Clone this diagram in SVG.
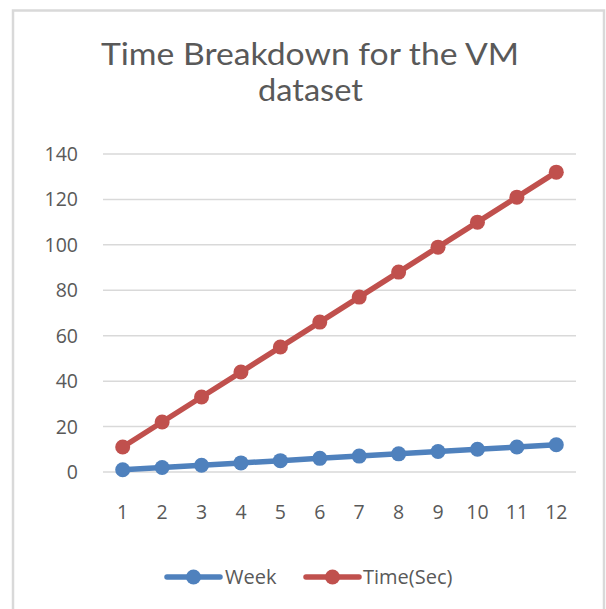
<svg xmlns="http://www.w3.org/2000/svg" width="606" height="609" viewBox="0 0 606 609">
<style>
.t{font-family:"Open Sans","Liberation Sans",sans-serif;fill:#595959}
.title{font-family:Lato,"Open Sans",sans-serif;font-size:30px;text-anchor:middle}
.ax{font-size:19.5px}
.yl{text-anchor:end}
.xl{text-anchor:middle}
.lg{font-size:20px}
.grid{stroke:#d9d9d9;stroke-width:1.5;fill:none}
.blue{stroke:#4f81bd;fill:none;stroke-width:5.5;stroke-linejoin:round;stroke-linecap:round}
.red{stroke:#c0504d;fill:none;stroke-width:5.5;stroke-linejoin:round;stroke-linecap:round}
.bm{fill:#4f81bd}
.rm{fill:#c0504d}
</style>
<rect x="0" y="0" width="606" height="609" fill="#ffffff"/>
<rect x="13" y="10.5" width="591" height="610" fill="#ffffff" stroke="#d9d9d9" stroke-width="2.5"/>
<g id="title">
<text class="t title" x="310" y="65" textLength="418" lengthAdjust="spacingAndGlyphs">Time Breakdown for the VM</text>
<text class="t title" x="310.5" y="101" textLength="105" lengthAdjust="spacingAndGlyphs">dataset</text>
</g>
<g id="gridlines">
<line class="grid" x1="103" y1="472" x2="576" y2="472"/>
<line class="grid" x1="103" y1="426.57" x2="576" y2="426.57"/>
<line class="grid" x1="103" y1="381.14" x2="576" y2="381.14"/>
<line class="grid" x1="103" y1="335.71" x2="576" y2="335.71"/>
<line class="grid" x1="103" y1="290.29" x2="576" y2="290.29"/>
<line class="grid" x1="103" y1="244.86" x2="576" y2="244.86"/>
<line class="grid" x1="103" y1="199.43" x2="576" y2="199.43"/>
<line class="grid" x1="103" y1="154" x2="576" y2="154"/>
</g>
<g id="y-axis">
<text class="t ax yl" x="78" y="479">0</text>
<text class="t ax yl" x="78" y="433.6">20</text>
<text class="t ax yl" x="78" y="388.1">40</text>
<text class="t ax yl" x="78" y="342.7">60</text>
<text class="t ax yl" x="78" y="297.3">80</text>
<text class="t ax yl" x="78" y="251.9">100</text>
<text class="t ax yl" x="78" y="206.4">120</text>
<text class="t ax yl" x="78" y="161">140</text>
</g>
<g id="x-axis">
<text class="t ax xl" x="122.7" y="519">1</text>
<text class="t ax xl" x="162.1" y="519">2</text>
<text class="t ax xl" x="201.5" y="519">3</text>
<text class="t ax xl" x="241" y="519">4</text>
<text class="t ax xl" x="280.4" y="519">5</text>
<text class="t ax xl" x="319.8" y="519">6</text>
<text class="t ax xl" x="359.2" y="519">7</text>
<text class="t ax xl" x="398.6" y="519">8</text>
<text class="t ax xl" x="438" y="519">9</text>
<text class="t ax xl" x="477.5" y="519">10</text>
<text class="t ax xl" x="516.9" y="519">11</text>
<text class="t ax xl" x="556.3" y="519">12</text>
</g>
<g id="connectors">
<polyline id="week-line" class="blue" points="122.71,469.73 162.13,467.46 201.54,465.19 240.96,462.91 280.38,460.64 319.79,458.37 359.21,456.10 398.63,453.83 438.04,451.56 477.46,449.29 516.88,447.01 556.29,444.74"/>
<polyline id="time-line" class="red" points="122.71,447.01 162.13,422.03 201.54,397.04 240.96,372.06 280.38,347.07 319.79,322.08 359.21,297.10 398.63,272.11 438.04,247.13 477.46,222.14 516.88,197.15 556.29,172.17"/>
</g>
<g id="week-markers">
<circle class="bm" cx="122.71" cy="469.73" r="7.5"/>
<circle class="bm" cx="162.13" cy="467.46" r="7.5"/>
<circle class="bm" cx="201.54" cy="465.19" r="7.5"/>
<circle class="bm" cx="240.96" cy="462.91" r="7.5"/>
<circle class="bm" cx="280.38" cy="460.64" r="7.5"/>
<circle class="bm" cx="319.79" cy="458.37" r="7.5"/>
<circle class="bm" cx="359.21" cy="456.10" r="7.5"/>
<circle class="bm" cx="398.63" cy="453.83" r="7.5"/>
<circle class="bm" cx="438.04" cy="451.56" r="7.5"/>
<circle class="bm" cx="477.46" cy="449.29" r="7.5"/>
<circle class="bm" cx="516.88" cy="447.01" r="7.5"/>
<circle class="bm" cx="556.29" cy="444.74" r="7.5"/>
</g>
<g id="time-markers">
<circle class="rm" cx="122.71" cy="447.01" r="7.5"/>
<circle class="rm" cx="162.13" cy="422.03" r="7.5"/>
<circle class="rm" cx="201.54" cy="397.04" r="7.5"/>
<circle class="rm" cx="240.96" cy="372.06" r="7.5"/>
<circle class="rm" cx="280.38" cy="347.07" r="7.5"/>
<circle class="rm" cx="319.79" cy="322.08" r="7.5"/>
<circle class="rm" cx="359.21" cy="297.10" r="7.5"/>
<circle class="rm" cx="398.63" cy="272.11" r="7.5"/>
<circle class="rm" cx="438.04" cy="247.13" r="7.5"/>
<circle class="rm" cx="477.46" cy="222.14" r="7.5"/>
<circle class="rm" cx="516.88" cy="197.15" r="7.5"/>
<circle class="rm" cx="556.29" cy="172.17" r="7.5"/>
</g>
<g id="legend">
<line class="blue" x1="167" y1="577" x2="220" y2="577"/>
<circle class="bm" cx="193.5" cy="577" r="7.5"/>
<text class="t lg" x="225" y="584">Week</text>
<line class="red" x1="306" y1="577" x2="359" y2="577"/>
<circle class="rm" cx="332.5" cy="577" r="7.5"/>
<text class="t lg" x="363" y="584">Time(Sec)</text>
</g>
</svg>
